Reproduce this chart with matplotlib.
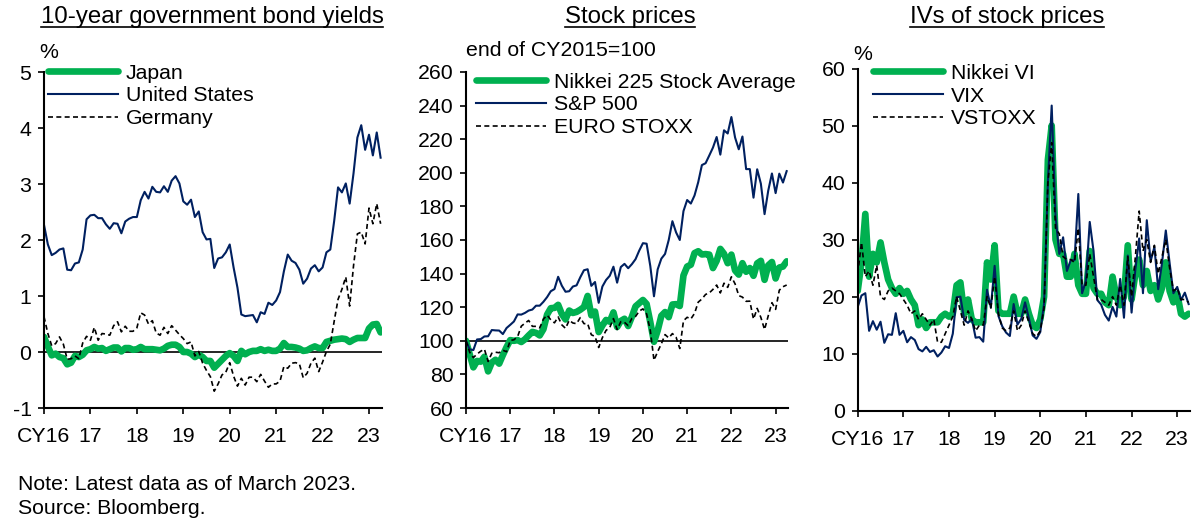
import numpy as np
import matplotlib
matplotlib.use("Agg")
import matplotlib.pyplot as plt
from matplotlib.lines import Line2D

plt.rcParams["font.family"] = ["Liberation Sans", "DejaVu Sans"]
plt.rcParams["axes.unicode_minus"] = False

# ---------- data (month-end, end-2015 .. Mar 2023) ----------
years = ["CY16", "17", "18", "19", "20", "21", "22", "23"]

jp_yield = [0.27, 0.10, -0.06, -0.03, -0.09, -0.11, -0.22, -0.19, -0.07, -0.09, -0.05, 0.03, 0.05,
            0.09, 0.06, 0.07, 0.02, 0.05, 0.08, 0.08, 0.01, 0.07, 0.07, 0.04, 0.05,
            0.09, 0.05, 0.05, 0.05, 0.04, 0.03, 0.06, 0.11, 0.13, 0.13, 0.09, 0.00,
            0.00, -0.03, -0.09, -0.05, -0.09, -0.16, -0.16, -0.28, -0.21, -0.14, -0.07, -0.02,
            -0.07, -0.16, 0.02, -0.04, 0.00, 0.02, 0.02, 0.05, 0.02, 0.04, 0.02, 0.02,
            0.06, 0.16, 0.09, 0.09, 0.08, 0.06, 0.02, 0.03, 0.07, 0.10, 0.07, 0.07,
            0.18, 0.20, 0.22, 0.23, 0.24, 0.23, 0.18, 0.22, 0.25, 0.25, 0.25, 0.42,
            0.49, 0.50, 0.35]
us_yield = [2.27, 1.92, 1.73, 1.77, 1.83, 1.85, 1.47, 1.46, 1.58, 1.60, 1.83, 2.37, 2.44,
            2.45, 2.39, 2.39, 2.28, 2.20, 2.30, 2.29, 2.12, 2.33, 2.38, 2.41, 2.41,
            2.71, 2.86, 2.74, 2.95, 2.86, 2.85, 2.96, 2.86, 3.06, 3.14, 3.01, 2.69,
            2.63, 2.72, 2.41, 2.51, 2.14, 2.01, 2.02, 1.50, 1.67, 1.69, 1.78, 1.92,
            1.51, 1.15, 0.67, 0.64, 0.65, 0.66, 0.53, 0.71, 0.68, 0.88, 0.84, 0.92,
            1.07, 1.44, 1.74, 1.63, 1.59, 1.47, 1.22, 1.31, 1.49, 1.55, 1.44, 1.51,
            1.78, 1.83, 2.34, 2.94, 2.85, 3.01, 2.65, 3.19, 3.83, 4.05, 3.61, 3.88,
            3.51, 3.92, 3.47]
de_yield = [0.63, 0.33, 0.11, 0.15, 0.27, 0.14, -0.13, -0.12, -0.07, -0.12, 0.16, 0.28, 0.21,
            0.44, 0.21, 0.33, 0.32, 0.30, 0.47, 0.54, 0.36, 0.46, 0.37, 0.37, 0.43,
            0.70, 0.66, 0.50, 0.56, 0.34, 0.30, 0.44, 0.33, 0.47, 0.39, 0.31, 0.24,
            0.15, 0.18, -0.07, 0.01, -0.20, -0.33, -0.44, -0.70, -0.57, -0.41, -0.36, -0.19,
            -0.43, -0.61, -0.47, -0.59, -0.45, -0.45, -0.53, -0.40, -0.52, -0.63, -0.57, -0.57,
            -0.52, -0.26, -0.29, -0.20, -0.19, -0.21, -0.46, -0.38, -0.20, -0.11, -0.35, -0.18,
            0.01, 0.14, 0.55, 0.94, 1.12, 1.34, 0.82, 1.54, 2.11, 2.14, 1.93, 2.57,
            2.29, 2.65, 2.29]

nikkei = [100.0, 92.0, 84.2, 88.0, 87.6, 90.5, 81.8, 87.1, 88.7, 86.4, 91.5, 96.2, 100.4,
          100.0, 100.4, 99.3, 100.9, 103.2, 105.3, 104.7, 103.2, 106.9, 115.6, 119.4, 119.6,
          121.4, 115.9, 112.7, 118.0, 116.6, 117.2, 118.5, 120.1, 126.7, 115.2, 117.4, 105.2,
          109.1, 112.4, 111.4, 116.9, 108.2, 111.8, 113.1, 108.8, 114.3, 120.5, 122.4, 124.3,
          121.9, 111.1, 99.4, 106.1, 114.9, 117.1, 114.1, 121.6, 121.8, 120.7, 138.9, 144.2,
          145.3, 152.2, 153.3, 151.4, 151.6, 151.3, 143.3, 147.6, 154.7, 151.8, 146.2, 151.3,
          141.9, 139.4, 146.2, 141.1, 143.3, 138.7, 146.1, 147.6, 136.3, 144.9, 146.9, 137.1,
          143.6, 144.2, 147.3]
sp500 = [100.0, 94.9, 94.5, 100.8, 101.0, 102.6, 102.7, 106.4, 106.2, 106.1, 104.0, 107.6, 109.5,
         111.5, 115.7, 115.6, 116.6, 118.0, 118.6, 120.9, 120.9, 123.2, 126.0, 129.5, 130.8,
         138.1, 132.8, 129.2, 129.5, 132.3, 133.0, 137.8, 142.0, 142.6, 132.7, 135.0, 122.6,
         132.3, 136.2, 138.7, 144.1, 134.6, 143.9, 145.8, 143.2, 145.6, 148.6, 153.7, 158.1,
         157.8, 144.5, 126.5, 142.5, 148.9, 151.7, 160.0, 171.2, 164.5, 160.0, 177.2, 183.8,
         181.7, 186.5, 194.4, 204.6, 205.7, 210.3, 215.0, 221.3, 210.8, 225.3, 223.4, 233.2,
         221.0, 214.0, 221.6, 202.2, 202.2, 185.2, 202.1, 193.5, 175.4, 189.4, 199.6, 187.9,
         199.5, 194.2, 201.0]
eurostoxx = [100.0, 93.2, 90.0, 92.1, 93.8, 95.0, 87.7, 92.6, 93.2, 92.9, 94.4, 93.5, 100.2,
             100.6, 102.5, 108.7, 110.5, 112.1, 108.6, 108.6, 107.7, 112.9, 115.3, 112.5, 110.7,
             114.2, 109.5, 107.4, 112.2, 110.6, 110.2, 113.8, 110.2, 110.2, 103.6, 102.6, 96.0,
             101.9, 106.2, 107.9, 113.2, 106.7, 111.4, 111.0, 109.0, 113.3, 114.5, 117.7, 119.0,
             116.0, 106.2, 88.4, 93.6, 98.2, 103.7, 101.7, 104.3, 102.1, 95.4, 111.9, 114.0,
             113.0, 116.3, 123.0, 124.9, 127.6, 128.5, 130.6, 133.2, 128.5, 134.3, 131.8, 138.1,
             133.9, 126.9, 126.0, 123.5, 123.6, 112.9, 119.3, 113.9, 106.7, 114.9, 122.7, 118.7,
             130.1, 132.2, 133.2]

nikkei_vi = [21.0, 26.0, 34.5, 23.5, 27.5, 26.0, 29.5, 26.0, 23.0, 21.5, 20.5, 21.5, 20.5,
             21.0, 19.5, 18.5, 15.0, 16.0, 14.5, 15.5, 15.5, 15.5, 16.5, 17.0, 16.5,
             17.0, 22.0, 22.5, 17.0, 19.5, 16.0, 15.5, 15.5, 15.5, 26.0, 23.0, 29.0,
             17.5, 17.0, 17.0, 17.0, 20.0, 17.0, 17.0, 19.5, 17.0, 15.0, 14.5, 16.0,
             20.0, 44.0, 50.0, 30.0, 27.5, 27.5, 23.5, 23.5, 27.5, 22.0, 20.5, 20.5,
             28.0, 21.5, 20.5, 20.5, 19.0, 18.5, 23.5, 20.0, 18.5, 20.0, 29.0, 19.5,
             24.0, 26.5, 22.0, 24.5, 21.0, 22.0, 19.5, 21.5, 26.0, 21.0, 19.0, 20.5,
             17.0, 16.5, 17.0]
vix = [18.2, 20.2, 20.6, 14.0, 15.7, 14.2, 15.6, 11.9, 13.4, 13.3, 17.1, 13.3, 14.0,
       12.0, 12.9, 12.4, 10.8, 10.4, 11.2, 10.3, 10.6, 9.5, 10.2, 11.3, 11.0,
       13.5, 19.9, 20.0, 15.9, 15.4, 16.1, 12.8, 12.9, 12.1, 21.2, 18.1, 25.4,
       16.6, 14.8, 13.7, 13.1, 18.7, 15.1, 16.1, 19.0, 16.2, 13.2, 12.6, 13.8,
       18.8, 40.1, 53.5, 34.2, 27.5, 30.4, 24.5, 26.4, 26.4, 38.0, 20.6, 22.8,
       33.1, 28.0, 19.4, 18.6, 16.8, 15.8, 18.2, 16.5, 23.1, 16.3, 27.2, 17.2,
       24.8, 30.2, 20.6, 33.4, 26.2, 28.7, 21.3, 25.9, 31.6, 25.9, 20.6, 21.7,
       19.4, 20.7, 18.7]
vstoxx = [24.0, 29.5, 23.5, 24.5, 22.0, 25.5, 20.0, 19.5, 21.0, 21.5, 21.0, 20.5, 19.5,
          18.5, 17.0, 17.5, 16.0, 17.0, 16.0, 15.0, 16.0, 12.0, 12.0, 13.5, 15.0,
          16.5, 20.0, 17.5, 15.0, 17.5, 16.0, 14.0, 15.0, 15.0, 20.0, 18.0, 23.5,
          17.0, 14.5, 14.0, 14.5, 17.5, 14.0, 15.0, 17.5, 15.5, 13.5, 13.0, 14.0,
          18.0, 40.0, 47.0, 32.0, 31.0, 27.0, 26.5, 26.5, 26.0, 32.0, 22.0, 22.0,
          27.5, 23.5, 19.5, 19.5, 19.0, 18.5, 20.0, 18.5, 22.0, 18.5, 27.0, 20.0,
          27.0, 35.0, 28.0, 30.0, 26.0, 29.0, 24.0, 27.0, 30.0, 25.0, 21.0, 21.5,
          19.5, 19.5, 19.0]

t = np.arange(len(jp_yield)) / 12.0

GREEN = "#00B050"
NAVY = "#002060"
DASH = (0, (3, 2))
FS = 15.3
W, H = 1198, 523

fig = plt.figure(figsize=(W / 100, H / 100), dpi=100)


def px_axes(x0, x1, ytop, ybot):
    return fig.add_axes([x0 / W, 1 - ybot / H, (x1 - x0) / W, (ybot - ytop) / H])


def style(ax, ylim, yticks):
    ax.set_xlim(0, 7.28)
    ax.set_ylim(*ylim)
    ax.set_yticks(yticks)
    ax.set_xticks(range(8))
    ax.set_xticklabels(years)
    for s in ["top", "right"]:
        ax.spines[s].set_visible(False)
    for s in ["left", "bottom"]:
        ax.spines[s].set_linewidth(1.5)
    ax.tick_params(direction="out", length=4, width=1.2, labelsize=FS)
    ax.tick_params(axis="x", pad=10)
    ax.tick_params(axis="y", pad=5)
    ax.patch.set_alpha(0)


def add_legend(ax, x_anchor, y_anchor):
    ax.legend(loc="upper left", bbox_to_anchor=(x_anchor, y_anchor), frameon=False,
              fontsize=FS, handlelength=3.3, handletextpad=0.35, labelspacing=0.18,
              borderpad=0, borderaxespad=0)


# ---------- 10-year government bond yields ----------
ax1 = px_axes(44, 382, 72, 408)
ax1.axhline(0, color="black", lw=1.2)
ax1.plot(t, jp_yield, color=GREEN, lw=4.8, label="Japan", solid_capstyle="round")
ax1.plot(t, us_yield, color=NAVY, lw=1.5, label="United States")
ax1.plot(t, de_yield, color="black", lw=1.2, ls=DASH, label="Germany")
style(ax1, (-1, 5), range(-1, 6))
add_legend(ax1, 0.012, 1.025)

# ---------- Stock prices ----------
ax2 = px_axes(466, 788, 72, 408)
ax2.axhline(100, color="black", lw=1.2)
ax2.plot(t, nikkei, color=GREEN, lw=4.8, label="Nikkei 225 Stock Average", solid_capstyle="round")
ax2.plot(t, sp500, color=NAVY, lw=1.5, label="S&P 500")
ax2.plot(t, eurostoxx, color="black", lw=1.2, ls=DASH, label="EURO STOXX")
style(ax2, (60, 260), range(60, 261, 20))
add_legend(ax2, 0.031, 0.998)

# ---------- IVs of stock prices ----------
ax3 = px_axes(857.7, 1190, 68.5, 410.7)
ax3.plot(t, nikkei_vi, color=GREEN, lw=4.8, label="Nikkei VI", solid_capstyle="round")
ax3.plot(t, vix, color=NAVY, lw=1.5, label="VIX")
ax3.plot(t, vstoxx, color="black", lw=1.2, ls=DASH, label="VSTOXX")
style(ax3, (0, 60), range(0, 61, 10))
add_legend(ax3, 0.046, 1.014)

# ---------- titles (underlined) and unit labels ----------
titles = [("10-year government bond yields", 212), ("Stock prices", 630), ("IVs of stock prices", 1007)]
title_objs = [fig.text(cx / W, 1 - 17 / H, s, ha="center", va="center", fontsize=17.3) for s, cx in titles]

fig.text(49 / W, 1 - 52 / H, "%", ha="center", va="center", fontsize=FS)
fig.text(466 / W, 1 - 50 / H, "end of CY2015=100", ha="left", va="center", fontsize=FS)
fig.text(863 / W, 1 - 55 / H, "%", ha="center", va="center", fontsize=FS)

fig.text(18 / W, 1 - 485 / H, "Note: Latest data as of March 2023.", ha="left", va="center", fontsize=FS)
fig.text(18 / W, 1 - 508 / H, "Source: Bloomberg.", ha="left", va="center", fontsize=FS)

fig.canvas.draw()
renderer = fig.canvas.get_renderer()
for txt in title_objs:
    bb = txt.get_window_extent(renderer)
    y = (bb.y0 + 1) / H
    fig.add_artist(Line2D([bb.x0 / W, bb.x1 / W], [y, y], color="black", lw=1.2,
                          transform=fig.transFigure))

fig.savefig("out.png", dpi=100)
